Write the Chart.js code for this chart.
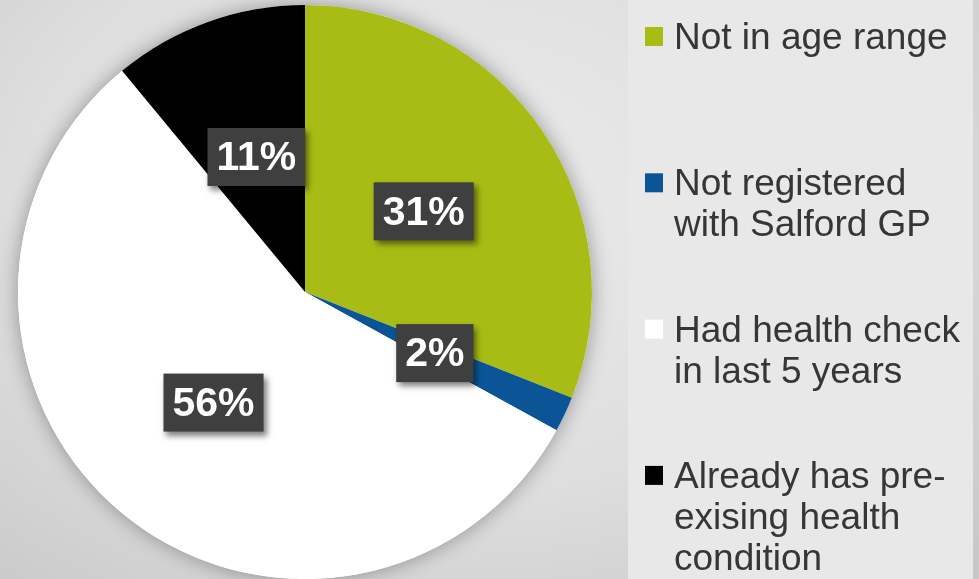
<!DOCTYPE html>
<html>
<head>
<meta charset="utf-8">
<script src="https://cdn.jsdelivr.net/npm/chart.js@4/dist/chart.umd.min.js"></script>
<style>
  html, body { margin: 0; padding: 0; }
  body {
    width: 979px; height: 579px; overflow: hidden;
    background: radial-gradient(ellipse at 45% 35%, #ececec 0%, #dedede 55%, #c6c6c6 100%);
  }
</style>
</head>
<body>
<canvas id="pieChart" width="979" height="579"></canvas>
<script>
// Chart data
const categories = [
  ["Not in age range"],
  ["Not registered", "with Salford GP"],
  ["Had health check", "in last 5 years"],
  ["Already has pre-", "exising health", "condition"]
];
const shares = [31, 2, 56, 11];
const sliceColours = ["#a9bc15", "#0b5496", "#ffffff", "#000000"];

// soft shadow behind the whole pie
const pieShadow = {
  id: "pieShadow",
  beforeDatasetsDraw(chart) {
    const arc = chart.getDatasetMeta(0).data[0];
    if (!arc) return;
    const ctx = chart.ctx;
    ctx.save();
    ctx.shadowColor = "rgba(0,0,0,0.35)";
    ctx.shadowBlur = 20;
    ctx.fillStyle = "#ffffff";
    ctx.beginPath();
    ctx.arc(arc.x, arc.y, arc.outerRadius, 0, Math.PI * 2);
    ctx.fill();
    ctx.restore();
  }
};

// dark boxes with the percentages
const valueBoxes = {
  id: "valueBoxes",
  afterDatasetsDraw(chart) {
    const ctx = chart.ctx;
    const arcs = chart.getDatasetMeta(0).data;
    ctx.save();
    ctx.font = "bold 41px 'Liberation Sans', Arial, sans-serif";
    ctx.textAlign = "center";
    ctx.textBaseline = "middle";
    arcs.forEach((arc, i) => {
      const pos = arc.tooltipPosition();
      const text = shares[i] + "%";
      const w = ctx.measureText(text).width + 18;
      const h = 58;
      ctx.save();
      ctx.shadowColor = "rgba(0,0,0,0.5)";
      ctx.shadowBlur = 6;
      ctx.shadowOffsetX = 3;
      ctx.shadowOffsetY = 4;
      ctx.fillStyle = "#3f3f3f";
      ctx.fillRect(pos.x - w / 2, pos.y - h / 2, w, h);
      ctx.restore();
      ctx.fillStyle = "#ffffff";
      ctx.fillText(text, pos.x, pos.y + 2);
    });
    ctx.restore();
  }
};

// legend panel on the right
const sideLegend = {
  id: "sideLegend",
  beforeDraw(chart) {
    const ctx = chart.ctx;
    ctx.save();
    ctx.fillStyle = "#e8e8e8";
    ctx.fillRect(628, 0, 345, chart.height);
    ctx.restore();
  },
  afterDraw(chart) {
    const ctx = chart.ctx;
    const colours = chart.data.datasets[0].backgroundColor;
    ctx.save();
    ctx.font = "37px 'Liberation Sans', Arial, sans-serif";
    ctx.textBaseline = "alphabetic";
    chart.data.labels.forEach((lines, i) => {
      const base = 49 + i * 146.3;
      ctx.fillStyle = colours[i];
      ctx.fillRect(645, base - 22, 18, 19);
      ctx.fillStyle = "#363636";
      lines.forEach((line, j) => {
        ctx.fillText(line, 674, base + j * 41);
      });
    });
    ctx.restore();
  }
};

new Chart(document.getElementById("pieChart").getContext("2d"), {
  type: "pie",
  data: {
    labels: categories,
    datasets: [
      {
        data: shares,
        backgroundColor: sliceColours,
        borderWidth: 0
      }
    ]
  },
  options: {
    responsive: false,
    animation: false,
    events: [],
    layout: { padding: { left: 18, top: 5, right: 387, bottom: 0 } },
    plugins: {
      legend: { display: false },
      tooltip: { enabled: false }
    }
  },
  plugins: [pieShadow, valueBoxes, sideLegend]
});
</script>
</body>
</html>
